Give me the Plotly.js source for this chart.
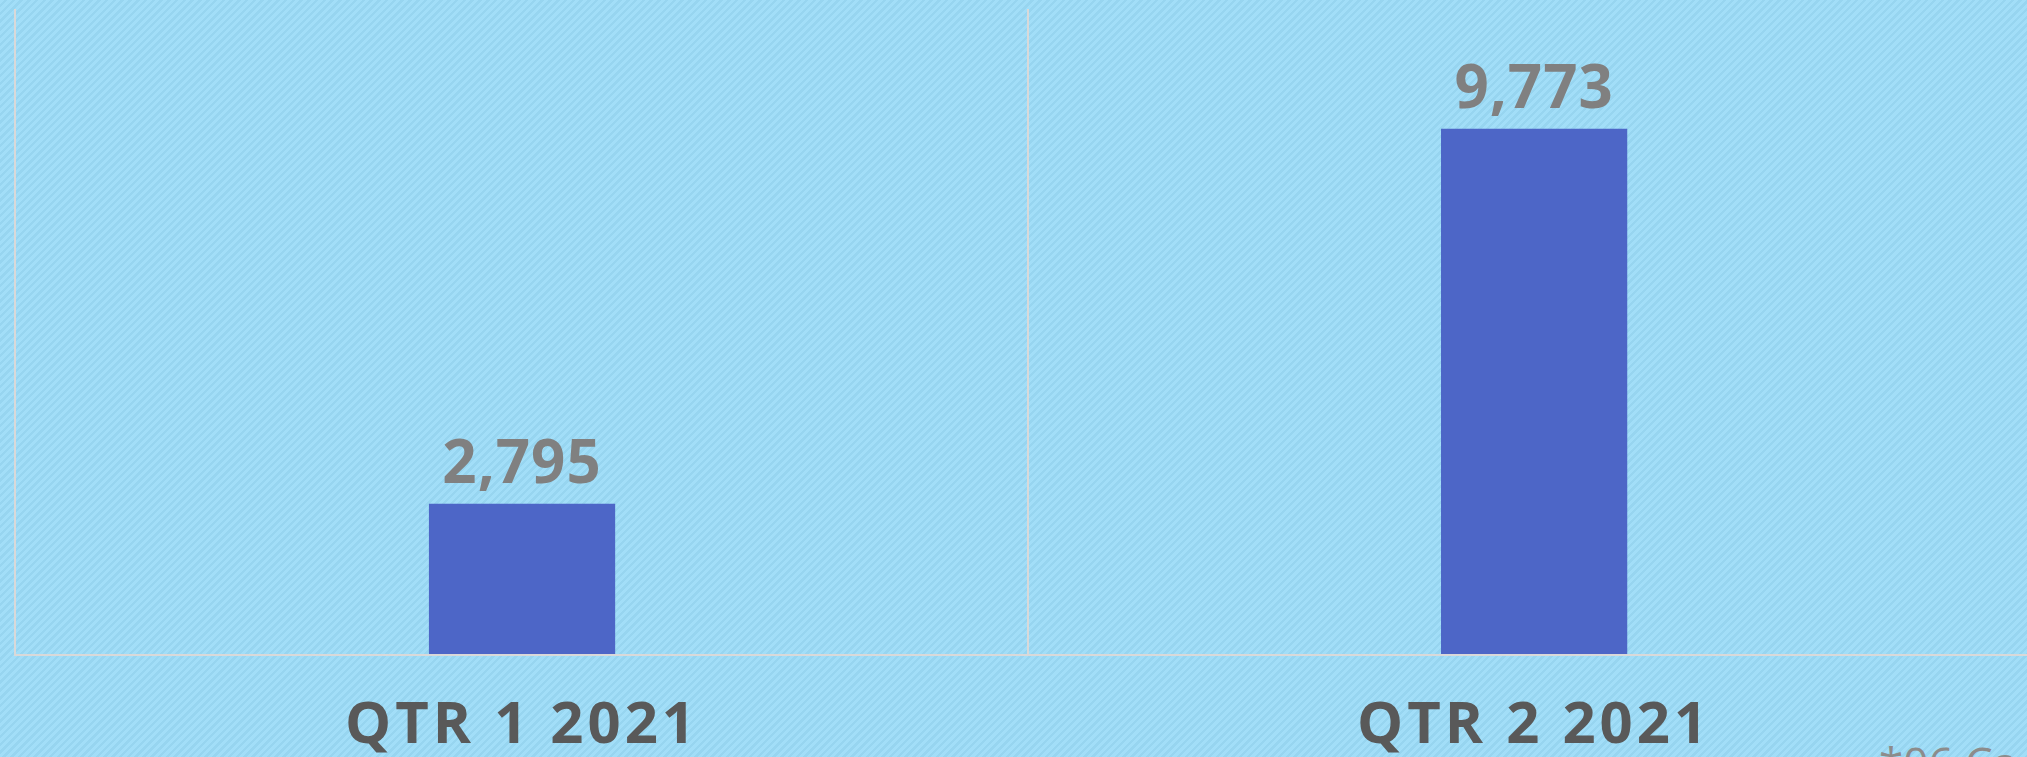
<!DOCTYPE html>
<html>
<head>
<meta charset="utf-8">
<script src="https://cdn.plot.ly/plotly-3.0.1.min.js"></script>
<style>
  html, body { margin: 0; padding: 0; }
  body {
    width: 2027px; height: 757px; overflow: hidden;
    background: repeating-linear-gradient(135deg, #A2DEF8 0px, #A2DEF8 3px, #97D5F0 3px, #97D5F0 5.5px);
  }
  #chart { width: 2027px; height: 757px; }
  .xtick text { letter-spacing: 4px; }
  text.bartext { letter-spacing: 1px; }
</style>
</head>
<body>
<div id="chart"></div>
<script>
const categories = ["QTR 1 2021", "QTR 2 2021"];
const values = [2795, 9773];
const footnote = "*06 Ca";

const trace = {
  type: "bar",
  x: categories,
  y: values,
  marker: { color: "#4D66C7" },
  texttemplate: "%{y:,}",
  textposition: "outside",
  constraintext: "none",
  cliponaxis: false,
  textfont: { family: "Open Sans", size: 60, color: "#808080", weight: 700 },
  hoverinfo: "skip"
};

const layout = {
  width: 2027,
  height: 757,
  margin: { l: 16, r: 0, t: 9, b: 103, pad: 0 },
  paper_bgcolor: "rgba(0,0,0,0)",
  plot_bgcolor: "rgba(0,0,0,0)",
  bargap: 0.816,
  showlegend: false,
  xaxis: {
    type: "category",
    range: [-0.5, 1.487],
    tickson: "boundaries",
    showgrid: true,
    gridcolor: "#D9D9D9",
    gridwidth: 2,
    showline: true,
    linecolor: "#D9D9D9",
    linewidth: 2,
    ticks: "",
    ticklabelstandoff: 17,
    tickfont: { family: "Open Sans", size: 58, color: "#595959", weight: 700 },
    fixedrange: true
  },
  yaxis: {
    range: [0, 12000],
    showgrid: false,
    zeroline: false,
    showline: true,
    linecolor: "#D9D9D9",
    linewidth: 2,
    showticklabels: false,
    ticks: "",
    fixedrange: true
  },
  annotations: [{
    text: footnote,
    xref: "paper", yref: "paper",
    x: 1, y: 0,
    xanchor: "left", yanchor: "top",
    xshift: -150, yshift: -76,
    showarrow: false,
    font: { family: "Open Sans", size: 44, color: "#8C8C8C" }
  }]
};

Plotly.newPlot("chart", [trace], layout, { displayModeBar: false, staticPlot: true });
</script>
</body>
</html>
